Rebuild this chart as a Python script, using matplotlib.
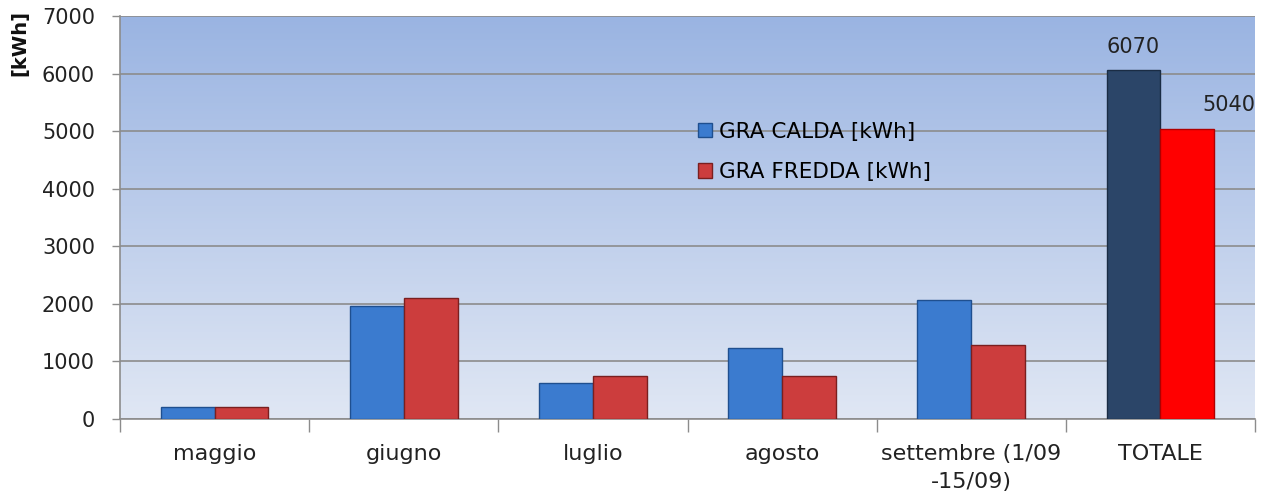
import matplotlib
matplotlib.use("Agg")
import matplotlib.pyplot as plt
import numpy as np
from matplotlib.colors import LinearSegmentedColormap

categories = ["maggio", "giugno", "luglio", "agosto", "settembre (1/09\n-15/09)", "TOTALE"]
calda = [210, 1960, 620, 1230, 2070, 6070]
fredda = [210, 2110, 750, 750, 1290, 5040]
label_calda = "GRA CALDA [kWh]"
label_fredda = "GRA FREDDA [kWh]"
yticks = [0, 1000, 2000, 3000, 4000, 5000, 6000, 7000]

plt.rcParams['font.family'] = ['DejaVu Sans']

fig = plt.figure(figsize=(12.65, 4.96), dpi=100)
ax = fig.add_axes([120/1265, 1-419/496, 1135/1265, 403/496])

# gradient background
cmap = LinearSegmentedColormap.from_list("bg", ["#e0e7f4", "#9ab4e2"])
grad = np.linspace(0, 1, 256).reshape(-1, 1)
ax.imshow(grad, cmap=cmap, aspect="auto", extent=[0, 1, 0, 1],
          transform=ax.transAxes, origin="lower", zorder=0)

x = np.arange(len(categories))
w = 0.285
n = len(categories)
c_cols = ["#3b7bcf"] * (n - 1) + ["#2b4568"]
f_cols = ["#cc3d3d"] * (n - 1) + ["#ff0000"]
c_edge = ["#1f4f8f"] * (n - 1) + ["#1a2c44"]
f_edge = ["#7a1f1f"] * (n - 1) + ["#b00000"]

b1 = ax.bar(x - w/2, calda, w, color=c_cols, edgecolor=c_edge, linewidth=1.0,
            zorder=3, label=label_calda)
b2 = ax.bar(x + w/2, fredda, w, color=f_cols, edgecolor=f_edge, linewidth=1.0,
            zorder=3, label=label_fredda)

ax.annotate(str(calda[-1]), (x[-1] - w/2, calda[-1]), xytext=(0, 9),
            textcoords="offset points", ha="center", va="bottom", fontsize=15, color="#222222")
ax.annotate(str(fredda[-1]), (x[-1] + w/2, fredda[-1]), xytext=(30, 10),
            textcoords="offset points", ha="center", va="bottom", fontsize=15, color="#222222")

ax.set_xlim(-0.5, n - 0.5)
ax.set_ylim(0, 7000)
ax.set_yticks(yticks)
ax.set_yticklabels([str(v) for v in yticks], fontsize=15, color="#222222")
ax.yaxis.grid(True, color="#8c8c8c", linewidth=1.2, zorder=1)
ax.set_axisbelow(True)

ax.set_xticks(x)
ax.set_xticklabels(categories, fontsize=16, color="#222222", linespacing=1.5)
ax.tick_params(axis="x", which="major", length=0, pad=18)
ax.set_xticks(np.arange(-0.5, n, 1.0), minor=True)
ax.tick_params(axis="x", which="minor", length=9, color="#8c8c8c", width=1)
ax.tick_params(axis="y", length=6, color="#8c8c8c", width=1, pad=12)

for s in ["top", "right"]:
    ax.spines[s].set_visible(False)
for s in ["left", "bottom"]:
    ax.spines[s].set_color("#8c8c8c")
    ax.spines[s].set_linewidth(1.2)

fig.text(20/1265, 1-43/496, "[kWh]", rotation=90, fontsize=14, fontweight="bold",
         ha="center", va="center", color="#111111")

leg = ax.legend(loc="upper left", bbox_to_anchor=(0.492, 0.786), frameon=False,
                fontsize=15.5, handlelength=0.65, handleheight=0.65, handletextpad=0.35,
                labelspacing=0.95)
leg.legend_handles[0].set_facecolor("#3b7bcf")
leg.legend_handles[0].set_edgecolor("#1f4f8f")
leg.legend_handles[1].set_facecolor("#cc3d3d")
leg.legend_handles[1].set_edgecolor("#7a1f1f")

fig.savefig("out.png", dpi=100)
